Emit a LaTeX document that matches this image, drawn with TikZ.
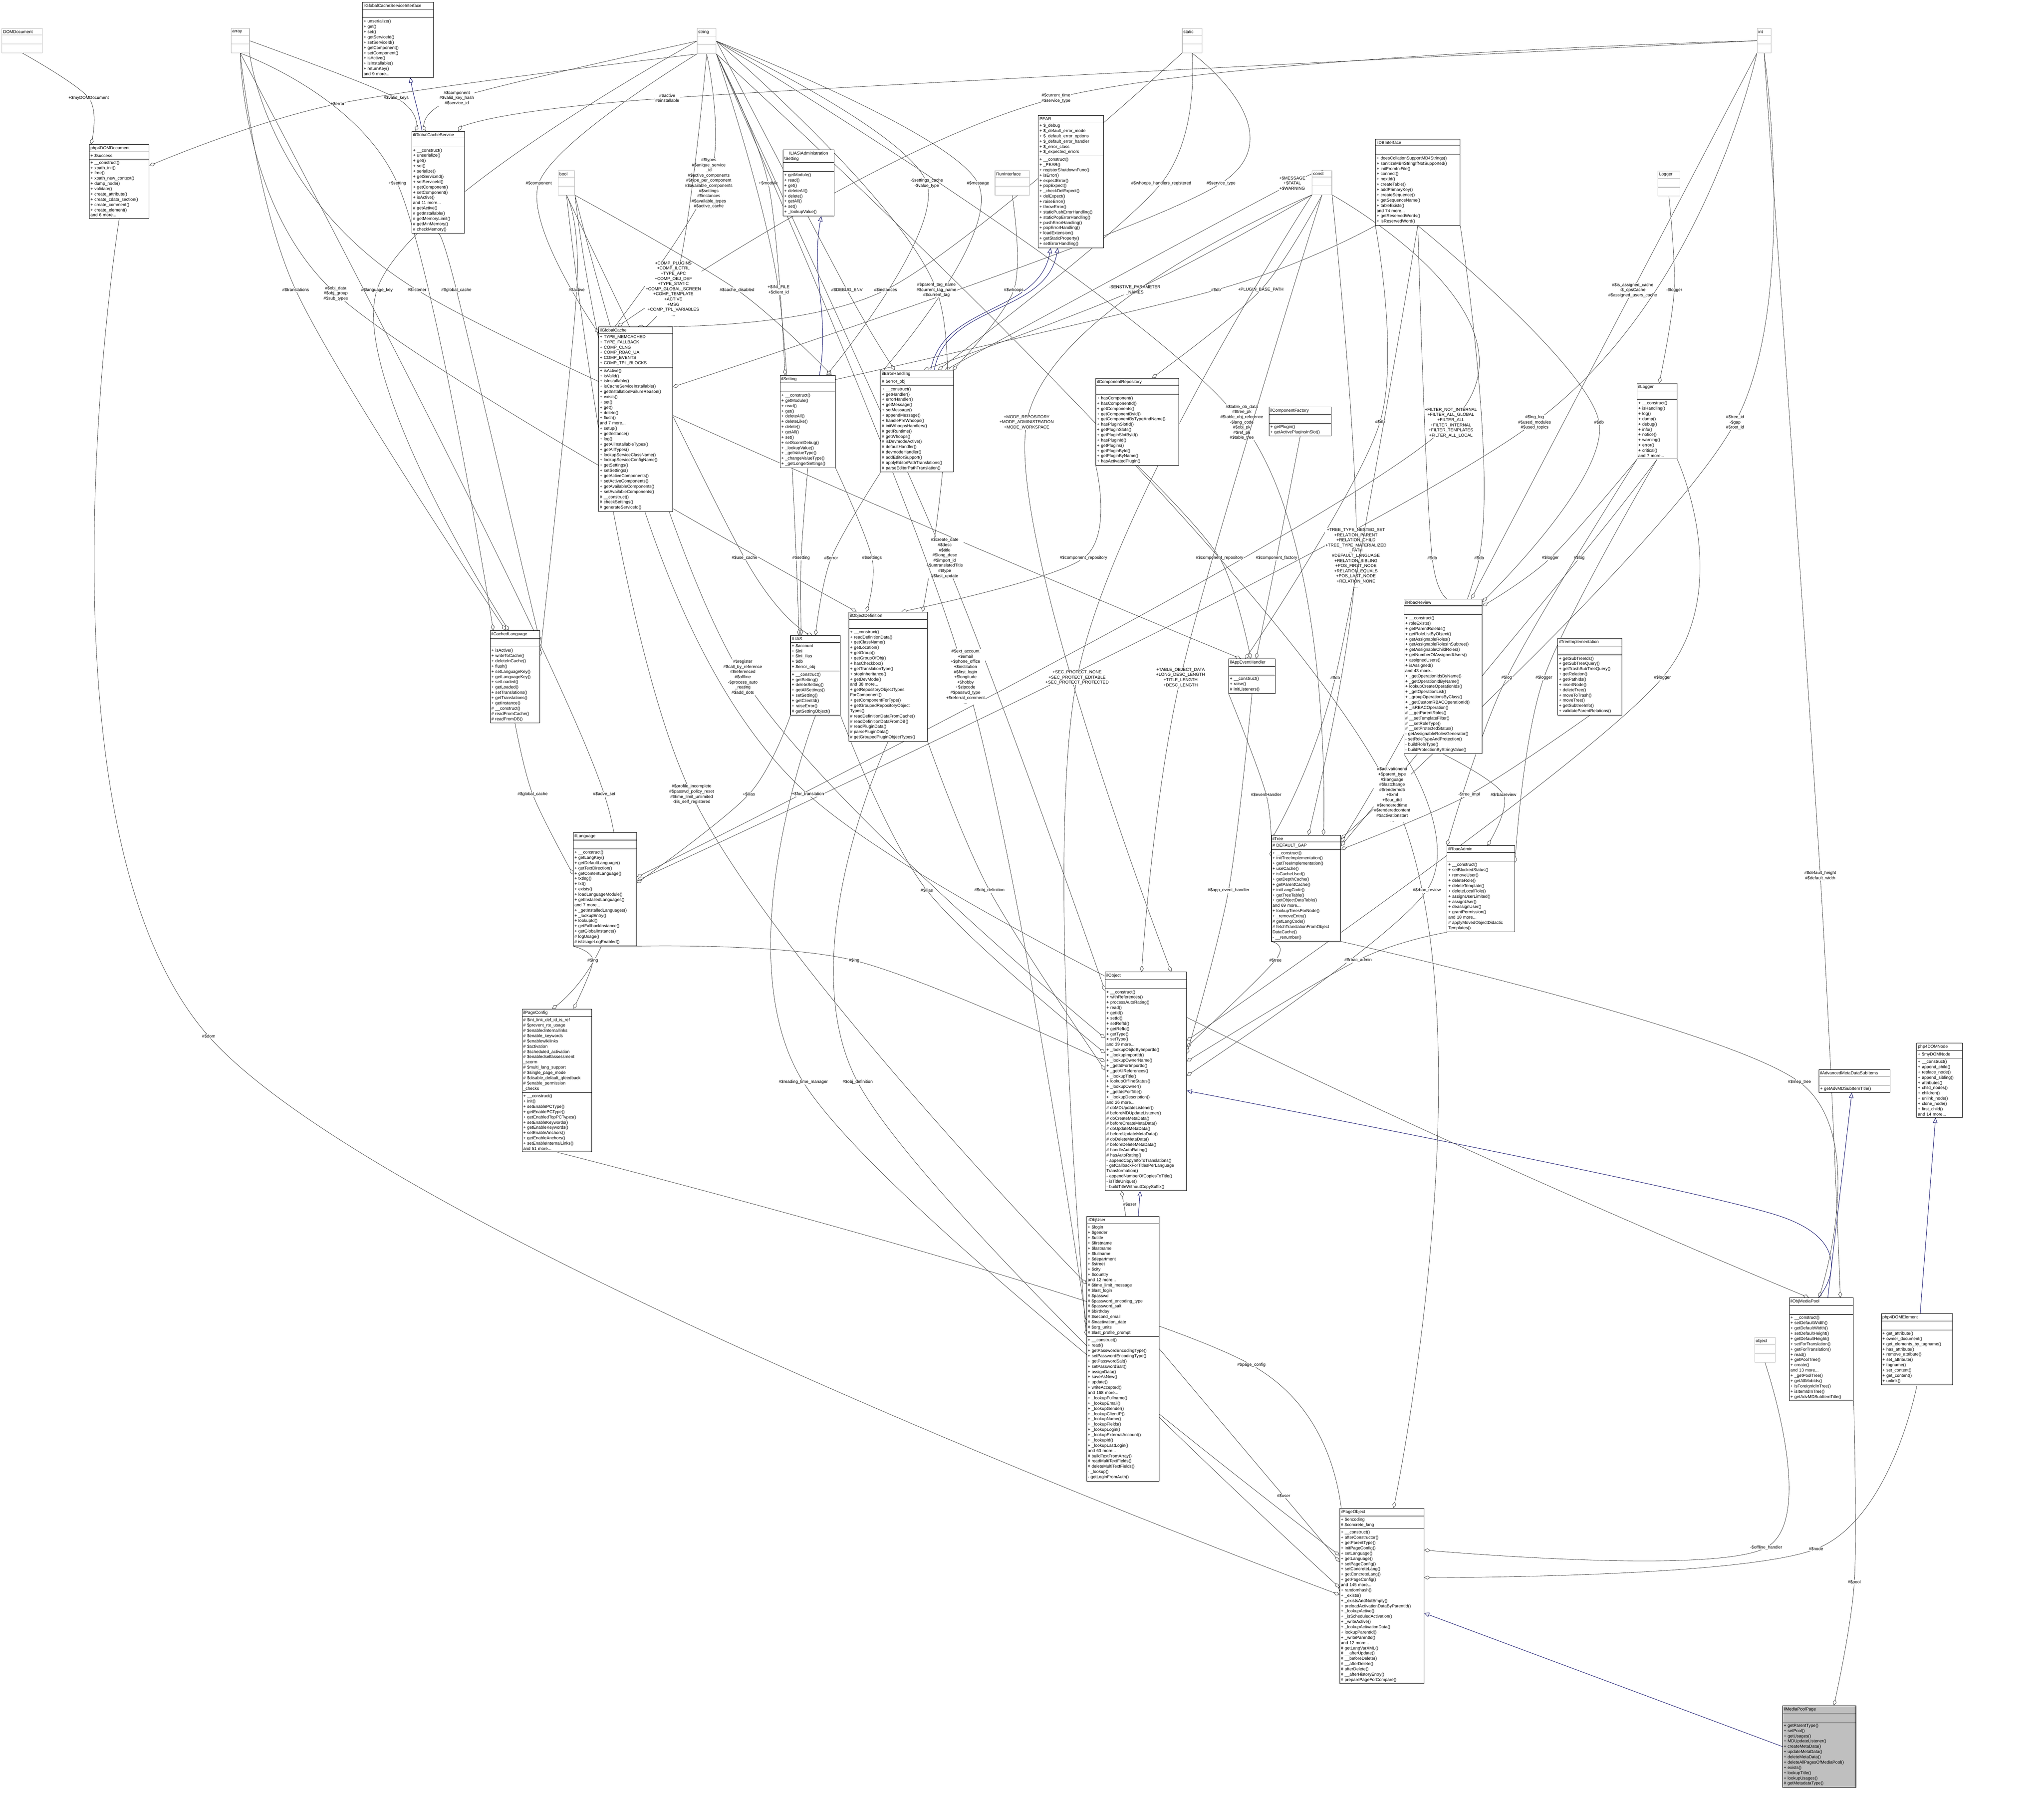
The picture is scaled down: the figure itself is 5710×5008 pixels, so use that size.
\documentclass[tikz,border=0pt]{standalone}
\usepackage{fontspec}
\setmainfont{Liberation Sans}
\usetikzlibrary{shapes.multipart,arrows.meta,calc,backgrounds}
\definecolor{edgegray}{HTML}{404040}
\definecolor{inhblue}{HTML}{191970}
\tikzset{
  classbox/.style={draw=black, line width=0.3pt, fill=white, rectangle split, rectangle split parts=3,
    anchor=north west, inner xsep=0.8pt, inner ysep=1.1pt, align=left, font=\fontsize{3}{3.675}\selectfont},
  typebox/.style={classbox, draw=gray!55},
  aggr/.style={draw=edgegray, line width=0.25pt, -{Diamond[open,length=4.5pt,width=2.6pt]}},
  inherit/.style={draw=inhblue, line width=0.3pt, -{Triangle[open,length=3.6pt,width=3.2pt]}},
  elabel/.style={font=\fontsize{3}{3.6}\selectfont, align=center, inner sep=0.3pt, fill=white}
}
% class box: [opts]{name}{x,y}{width px}{title}{attributes}{methods}
\newcommand{\umlclass}[7][]{%
  \pgfmathsetlengthmacro\boxw{#4*0.25pt-1.6pt}%
  \node[classbox,#1,text width=\boxw] (#2) at (#3) {\centering #5\nodepart{second}#6\nodepart{third}#7};}
\newcommand{\typeclass}[4]{%
  \pgfmathsetlengthmacro\boxw{#3*0.25pt-1.6pt}%
  \node[typebox,text width=\boxw] (#1) at (#2) {\centering #4\nodepart{second}\strut\nodepart{third}\strut};}
% usage edge: {label name}{from}{label point}{to}{label}
\newcommand{\usage}[5]{%
  \draw[aggr] plot[smooth,tension=0.55] coordinates {(#2) (#3) (#4)};
  \node[elabel] (#1) at (#3) {#5};}

\begin{document}
\begin{tikzpicture}[x=0.25pt,y=-0.25pt]
\useasboundingbox (0,0) rectangle (5710,5008);

% plain types
\typeclass{tDOM}{5,79}{113}{DOMDocument}
\typeclass{tArray}{645,79}{51}{array}
\typeclass{tString}{1947,79}{53}{string}
\typeclass{tStatic}{3302,79}{55}{static}
\typeclass{tInt}{4908,79}{39}{int}
\typeclass{tBool}{1559,476}{46}{bool}
\typeclass{tRun}{2779,476}{96}{RunInterface}
\typeclass{tConst}{3665,476}{55}{const}
\typeclass{tLogger}{4631,477}{61}{Logger}
\typeclass{tObject}{4901,3735}{58}{object}

% classes
\umlclass{cGCSI}{1012,6}{199}{ilGlobalCacheServiceInterface}{\strut}{+ unserialize()\\+ get()\\+ set()\\+ getServiceId()\\+ setServiceId()\\+ getComponent()\\+ setComponent()\\+ isActive()\\+ isInstallable()\\+ returnKey()\\and 9 more...}
\umlclass{cGCS}{1150,366}{147}{ilGlobalCacheService}{\strut}{+ \_\_construct()\\+ unserialize()\\+ get()\\+ set()\\+ serialize()\\+ getServiceId()\\+ setServiceId()\\+ getComponent()\\+ setComponent()\\+ isActive()\\and 11 more...\\\# getActive()\\\# getInstallable()\\\# getMemoryLimit()\\\# getMinMemory()\\\# checkMemory()}
\umlclass{cDOMDoc}{249,403}{167}{php4DOMDocument}{+ \$success}{+ \_\_construct()\\+ xpath\_init()\\+ free()\\+ xpath\_new\_context()\\+ dump\_node()\\+ validate()\\+ create\_attribute()\\+ create\_cdata\_section()\\+ create\_comment()\\+ create\_element()\\and 6 more...}
\umlclass{cAdmSetting}{2187,418}{143}{ILIAS\textbackslash Administration\\\textbackslash Setting}{\strut}{+ getModule()\\+ read()\\+ get()\\+ deleteAll()\\+ delete()\\+ getAll()\\+ set()\\+ \_lookupValue()}
\umlclass{cPEAR}{2900,322}{182}{PEAR}{+ \$\_debug\\+ \$\_default\_error\_mode\\+ \$\_default\_error\_options\\+ \$\_default\_error\_handler\\+ \$\_error\_class\\+ \$\_expected\_errors}{+ \_\_construct()\\+ \_PEAR()\\+ registerShutdownFunc()\\+ isError()\\+ expectError()\\+ popExpect()\\+ \_checkDelExpect()\\+ delExpect()\\+ raiseError()\\+ throwError()\\+ staticPushErrorHandling()\\+ staticPopErrorHandling()\\+ pushErrorHandling()\\+ popErrorHandling()\\+ loadExtension()\\+ getStaticProperty()\\+ setErrorHandling()}
\umlclass{cDB}{3842,388}{236}{ilDBInterface}{\strut}{+ doesCollationSupportMB4Strings()\\+ sanitizeMB4StringIfNotSupported()\\+ initFromIniFile()\\+ connect()\\+ nextId()\\+ createTable()\\+ addPrimaryKey()\\+ createSequence()\\+ getSequenceName()\\+ tableExists()\\and 74 more...\\+ getReservedWords()\\+ isReservedWord()}
\umlclass{cGCache}{1672,912}{206}{ilGlobalCache}{+ TYPE\_MEMCACHED\\+ TYPE\_FALLBACK\\+ COMP\_CLNG\\+ COMP\_RBAC\_UA\\+ COMP\_EVENTS\\+ COMP\_TPL\_BLOCKS}{+ isActive()\\+ isValid()\\+ isInstallable()\\+ isCacheServiceInstallable()\\+ getInstallationFailureReason()\\+ exists()\\+ set()\\+ get()\\+ delete()\\+ flush()\\and 7 more...\\+ setup()\\+ getInstance()\\+ log()\\+ getAllInstallableTypes()\\+ getAllTypes()\\+ lookupServiceClassName()\\+ lookupServiceConfigName()\\+ getSettings()\\+ setSettings()\\+ getActiveComponents()\\+ setActiveComponents()\\+ getAvailableComponents()\\+ setAvailableComponents()\\\# \_\_construct()\\\# checkSettings()\\\# generateServiceId()}
\umlclass{cSetting}{2179,1048}{154}{ilSetting}{\strut}{+ \_\_construct()\\+ getModule()\\+ read()\\+ get()\\+ deleteAll()\\+ deleteLike()\\+ delete()\\+ getAll()\\+ set()\\+ setScormDebug()\\+ \_lookupValue()\\+ \_getValueType()\\+ \_changeValueType()\\+ \_getLongerSettings()}
\umlclass{cErr}{2460,1034}{203}{ilErrorHandling}{\# \$error\_obj}{+ \_\_construct()\\+ getHandler()\\+ errorHandler()\\+ getMessage()\\+ setMessage()\\+ appendMessage()\\+ handlePreWhoops()\\\# initWhoopsHandlers()\\\# getIRuntime()\\\# getWhoops()\\\# isDevmodeActive()\\\# defaultHandler()\\\# devmodeHandler()\\\# addEditorSupport()\\\# applyEditorPathTranslations()\\\# parseEditorPathTranslation()}
\umlclass{cCompRepo}{3061,1056}{231}{ilComponentRepository}{\strut}{+ hasComponent()\\+ hasComponentId()\\+ getComponents()\\+ getComponentById()\\+ getComponentByTypeAndName()\\+ hasPluginSlotId()\\+ getPluginSlots()\\+ getPluginSlotById()\\+ hasPluginId()\\+ getPlugins()\\+ getPluginById()\\+ getPluginByName()\\+ hasActivatedPlugin()}
\umlclass{cCompFac}{3545,1136}{173}{ilComponentFactory}{\strut}{+ getPlugin()\\+ getActivePluginsInSlot()}
\umlclass{cLogger}{4573,1070}{111}{ilLogger}{\strut}{+ \_\_construct()\\+ isHandling()\\+ log()\\+ dump()\\+ debug()\\+ info()\\+ notice()\\+ warning()\\+ error()\\+ critical()\\and 7 more...}
\umlclass{cILIAS}{2208,1775}{139}{ILIAS}{+ \$account\\+ \$ini\\+ \$ini\_ilias\\+ \$db\\+ \$error\_obj}{+ \_\_construct()\\+ getSetting()\\+ deleteSetting()\\+ getAllSettings()\\+ setSetting()\\+ getClientId()\\+ raiseError()\\\# getSettingObject()}
\umlclass{cObjDef}{2371,1709}{219}{ilObjectDefinition}{\strut}{+ \_\_construct()\\+ readDefinitionData()\\+ getClassName()\\+ getLocation()\\+ getGroup()\\+ getGroupOfObj()\\+ hasCheckbox()\\+ getTranslationType()\\+ stopInheritance()\\+ getDevMode()\\and 38 more...\\+ getRepositoryObjectTypes\\ForComponent()\\+ getComponentForType()\\+ getGroupedRepositoryObject\\Types()\\\# readDefinitionDataFromCache()\\\# readDefinitionDataFromDB()\\\# readPluginData()\\\# parsePluginData()\\\# getGroupedPluginObjectTypes()}
\umlclass{cAppEvt}{3432,1840}{130}{ilAppEventHandler}{\strut}{+ \_\_construct()\\+ raise()\\\# initListeners()}
\umlclass{cRbacRev}{3922,1673}{218}{ilRbacReview}{\strut}{+ \_\_construct()\\+ roleExists()\\+ getParentRoleIds()\\+ getRoleListByObject()\\+ getAssignableRoles()\\+ getAssignableRolesInSubtree()\\+ getAssignableChildRoles()\\+ getNumberOfAssignedUsers()\\+ assignedUsers()\\+ isAssigned()\\and 43 more...\\+ \_getOperationIdsByName()\\+ \_getOperationIdByName()\\+ lookupCreateOperationIds()\\+ \_getOperationList()\\+ \_groupOperationsByClass()\\+ \_getCustomRBACOperationId()\\+ \_isRBACOperation()\\\# \_\_getParentRoles()\\\# \_\_setTemplateFilter()\\\# \_\_setRoleType()\\\# \_\_setProtectedStatus()\\- getAssignableRolesGenerator()\\- setRoleTypeAndProtection()\\- buildRoleType()\\- buildProtectionByStringValue()}
\umlclass{cTreeImpl}{4351,1783}{179}{ilTreeImplementation}{\strut}{+ getSubTreeIds()\\+ getSubTreeQuery()\\+ getTrashSubTreeQuery()\\+ getRelation()\\+ getPathIds()\\+ insertNode()\\+ deleteTree()\\+ moveToTrash()\\+ moveTree()\\+ getSubtreeInfo()\\+ validateParentRelations()}
\umlclass{cCachedLang}{1369,1761}{138}{ilCachedLanguage}{\strut}{+ isActive()\\+ writeToCache()\\+ deleteInCache()\\+ flush()\\+ setLanguageKey()\\+ getLanguageKey()\\+ setLoaded()\\+ getLoaded()\\+ setTranslations()\\+ getTranslations()\\+ getInstance()\\\# \_\_construct()\\\# readFromCache()\\\# readFromDB()}
\umlclass{cTree}{3551,2333}{194}{ilTree}{\# DEFAULT\_GAP}{+ \_\_construct()\\+ initTreeImplementation()\\+ getTreeImplementation()\\+ useCache()\\+ isCacheUsed()\\+ getDepthCache()\\+ getParentCache()\\+ initLangCode()\\+ getTreeTable()\\+ getObjectDataTable()\\and 69 more...\\+ lookupTreesForNode()\\+ \_removeEntry()\\\# getLangCode()\\\# fetchTranslationFromObject\\DataCache()\\- \_\_renumber()}
\umlclass{cRbacAdmin}{4042,2362}{189}{ilRbacAdmin}{\strut}{+ \_\_construct()\\+ setBlockedStatus()\\+ removeUser()\\+ deleteRole()\\+ deleteTemplate()\\+ deleteLocalRole()\\+ assignUserLimited()\\+ assignUser()\\+ deassignUser()\\+ grantPermission()\\and 18 more...\\\# applyMovedObjectDidactic\\Templates()}
\umlclass{cLang}{1601,2325}{177}{ilLanguage}{\strut}{+ \_\_construct()\\+ getLangKey()\\+ getDefaultLanguage()\\+ getTextDirection()\\+ getContentLanguage()\\+ txtlng()\\+ txt()\\+ exists()\\+ loadLanguageModule()\\+ getInstalledLanguages()\\and 7 more...\\+ \_getInstalledLanguages()\\+ \_lookupEntry()\\+ lookupId()\\+ getFallbackInstance()\\+ getGlobalInstance()\\\# logUsage()\\\# isUsageLogEnabled()}
\umlclass{cPageConfig}{1458,2818}{194}{ilPageConfig}{\# \$int\_link\_def\_id\_is\_ref\\\# \$prevent\_rte\_usage\\\# \$enabledinternallinks\\\# \$enable\_keywords\\\# \$enablewikilinks\\\# \$activation\\\# \$scheduled\_activation\\\# \$enabledselfassessment\\\_scorm\\\# \$multi\_lang\_support\\\# \$single\_page\_mode\\\# \$disable\_default\_qfeedback\\\# \$enable\_permission\\\_checks}{+ \_\_construct()\\+ init()\\+ setEnablePCType()\\+ getEnablePCType()\\+ getEnabledTopPCTypes()\\+ setEnableKeywords()\\+ getEnableKeywords()\\+ setEnableAnchors()\\+ getEnableAnchors()\\+ setEnableInternalLinks()\\and 51 more...}
\umlclass{cObj}{3087,2715}{227}{ilObject}{\strut}{+ \_\_construct()\\+ withReferences()\\+ processAutoRating()\\+ read()\\+ getId()\\+ setId()\\+ setRefId()\\+ getRefId()\\+ getType()\\+ setType()\\and 39 more...\\+ \_lookupObjIdByImportId()\\+ \_lookupImportId()\\+ \_lookupOwnerName()\\+ \_getIdForImportId()\\+ \_getAllReferences()\\+ \_lookupTitle()\\+ lookupOfflineStatus()\\+ \_lookupOwner()\\+ \_getIdsForTitle()\\+ \_lookupDescription()\\and 26 more...\\\# doMDUpdateListener()\\\# beforeMDUpdateListener()\\\# doCreateMetaData()\\\# beforeCreateMetaData()\\\# doUpdateMetaData()\\\# beforeUpdateMetaData()\\\# doDeleteMetaData()\\\# beforeDeleteMetaData()\\\# handleAutoRating()\\\# hasAutoRating()\\- appendCopyInfoToTranslations()\\- getCallbackForTitlesPerLanguage\\Transformation()\\- appendNumberOfCopiesToTitle()\\- isTitleUnique()\\- buildTitleWithoutCopySuffix()}
\umlclass{cObjUser}{3035,3397}{202}{ilObjUser}{+ \$login\\+ \$gender\\+ \$utitle\\+ \$firstname\\+ \$lastname\\+ \$fullname\\+ \$department\\+ \$street\\+ \$city\\+ \$country\\and 12 more...\\\# \$time\_limit\_message\\\# \$last\_login\\\# \$passwd\\\# \$password\_encoding\_type\\\# \$password\_salt\\\# \$birthday\\\# \$second\_email\\\# \$inactivation\_date\\\# \$org\_units\\\# \$last\_profile\_prompt}{+ \_\_construct()\\+ read()\\+ getPasswordEncodingType()\\+ setPasswordEncodingType()\\+ getPasswordSalt()\\+ setPasswordSalt()\\+ assignData()\\+ saveAsNew()\\+ update()\\+ writeAccepted()\\and 168 more...\\+ \_lookupFullname()\\+ \_lookupEmail()\\+ \_lookupGender()\\+ \_lookupClientIP()\\+ \_lookupName()\\+ \_lookupFields()\\+ \_lookupLogin()\\+ \_lookupExternalAccount()\\+ \_lookupId()\\+ \_lookupLastLogin()\\and 63 more...\\\# buildTextFromArray()\\\# readMultiTextFields()\\\# deleteMultiTextFields()\\- \_lookup()\\- getLoginFromAuth()}
\umlclass{cAdvMD}{5081,2987}{198}{ilAdvancedMetaDataSubItems}{\strut}{+ getAdvMDSubItemTitle()}
\umlclass{cDOMNode}{5354,2913}{127}{php4DOMNode}{+ \$myDOMNode}{+ \_\_construct()\\+ append\_child()\\+ replace\_node()\\+ append\_sibling()\\+ attributes()\\+ child\_nodes()\\+ children()\\+ unlink\_node()\\+ clone\_node()\\+ first\_child()\\and 14 more...}
\umlclass{cObjMP}{4998,3625}{179}{ilObjMediaPool}{\strut}{+ \_\_construct()\\+ setDefaultWidth()\\+ getDefaultWidth()\\+ setDefaultHeight()\\+ getDefaultHeight()\\+ setForTranslation()\\+ getForTranslation()\\+ read()\\+ getPoolTree()\\+ create()\\and 13 more...\\+ \_getPoolTree()\\+ getAllMobIds()\\+ isForeignIdInTree()\\+ isItemIdInTree()\\+ getAdvMDSubItemTitle()}
\umlclass{cDOMElem}{5255,3669}{199}{php4DOMElement}{\strut}{+ get\_attribute()\\+ owner\_document()\\+ get\_elements\_by\_tagname()\\+ has\_attribute()\\+ remove\_attribute()\\+ set\_attribute()\\+ tagname()\\+ set\_content()\\+ get\_content()\\+ unlink()}
\umlclass{cPageObj}{3742,4213}{235}{ilPageObject}{+ \$encoding\\\# \$concrete\_lang}{+ \_\_construct()\\+ afterConstructor()\\+ getParentType()\\+ initPageConfig()\\+ setLanguage()\\+ getLanguage()\\+ setPageConfig()\\+ setConcreteLang()\\+ getConcreteLang()\\+ getPageConfig()\\and 145 more...\\+ randomhash()\\+ \_exists()\\+ \_existsAndNotEmpty()\\+ preloadActivationDataByParentId()\\+ \_lookupActive()\\+ \_isScheduledActivation()\\+ \_writeActive()\\+ \_lookupActivationData()\\+ lookupParentId()\\+ \_writeParentId()\\and 12 more...\\\# getLangVarXML()\\\# \_\_afterUpdate()\\\# \_\_beforeDelete()\\\# \_\_afterDelete()\\\# afterDelete()\\\# \_\_afterHistoryEntry()\\\# preparePageForCompare()}
\umlclass[fill=gray!50]{cMPP}{4979,4764}{205}{ilMediaPoolPage}{\strut}{+ getParentType()\\+ setPool()\\+ getUsages()\\+ MDUpdateListener()\\+ createMetaData()\\+ updateMetaData()\\+ deleteMetaData()\\+ deleteAllPagesOfMediaPool()\\+ exists()\\+ lookupTitle()\\+ lookupUsages()\\\# getMetadataType()}

\begin{pgfonlayer}{background}
% inheritance
\draw[inherit] ($(cGCS.north west)+(29,0)$) to[out=100,in=-80] ($(cGCSI.south west)+(134,0)$);
\draw[inherit] ($(cSetting.north west)+(110,0)$) to[out=80,in=-100] ($(cAdmSetting.south west)+(107,0)$);
\draw[inherit] ($(cErr.north west)+(140,0)$) to[out=80,in=-100] ($(cPEAR.south west)+(35,0)$);
\draw[inherit] ($(cErr.north west)+(150,0)$) to[out=80,in=-100] ($(cPEAR.south west)+(55,0)$);
\draw[inherit] ($(cObjUser.north west)+(145,0)$) -- ($(cObj.south west)+(98,0)$);
\draw[inherit] ($(cObjMP.north west)+(108,0)$) -- ($(cAdvMD.south west)+(92,0)$);
\draw[inherit] ($(cDOMElem.north west)+(109,0)$) -- ($(cDOMNode.south west)+(53,0)$);
\draw[inherit] plot[smooth,tension=0.5] coordinates {($(cObjMP.north west)+(82,0)$) (4968,3396) ($(cObj.north east)+(0,332)$)};
\draw[inherit] (cMPP.west) -- ($(cPageObj.north east)+(0,293)$);

% usage: top row
\usage{lMyDom}{tDOM.south}{248,274}{$(cDOMDoc.north west)+(5,0)$}{+\$myDOMDocument}
\usage{lError}{tString.south west}{943,290}{$(cDOMDoc.north east)+(0,60)$}{+\$error}
\usage{lValidKeys}{tArray.east}{1107,274}{$(cGCS.north west)+(11,0)$}{\#\$valid\_keys}
\usage{lComp}{tString.west}{1276,274}{$(cGCS.north west)+(40,0)$}{\#\$component\\\#\$valid\_key\_hash\\\#\$service\_id}
\usage{lActInst}{tInt.west}{1864,274}{$(cGCS.north west)+(130,0)$}{\#\$active\\\#\$installable}
\usage{lCurTime}{tInt.west}{2950,274}{$(cGCache.north west)+(54,0)$}{\#\$current\_time\\\#\$service\_type}
% row 512
\usage{lSettingP}{tArray.south}{1110,512}{$(cCachedLang.north west)+(9,0)$}{+\$setting}
\usage{lComponent}{tString.south west}{1505,512}{$(cGCache.north west)+(0,18)$}{\#\$component}
\usage{lTypes}{tString.south}{1980,512}{$(cGCache.north west)+(0,60)$}{\#\$types\\\#\$unique\_service\\\_id\\\#\$active\_components\\\#\$type\_per\_component\\\#\$available\_components\\\#\$settings\\\#\$instances\\\#\$available\_types\\\#\$active\_cache}
\usage{lModule}{tString.south east}{2146,512}{$(cSetting.north west)+(14,0)$}{+\$module}
\usage{lSetCache}{tString.east}{2589,512}{$(cSetting.north west)+(130,0)$}{-\$settings\_cache\\-\$value\_type}
\usage{lMessage}{tString.east}{2732,512}{$(cErr.north west)+(0,8)$}{\#\$message}
\usage{lWhoopsReg}{tStatic.south}{3244,512}{$(cErr.north west)+(160,0)$}{\#\$whoops\_handlers\_registered}
\usage{lServType}{tStatic.south}{3411,512}{$(cGCache.north east)+(0,169)$}{\#\$service\_type}
\usage{lMsgConst}{tConst.west}{3610,512}{$(cErr.north west)+(180,0)$}{+\$MESSAGE\\+\$FATAL\\+\$WARNING}
% row 810
\usage{lTrans}{tArray.south}{826,810}{$(cCachedLang.north west)+(44,0)$}{\#\$translations}
\usage{lObjData}{tArray.south}{938,820}{$(cObjDef.north west)+(22,0)$}{\#\$obj\_data\\\#\$obj\_group\\\#\$sub\_types}
\usage{lLangKey}{tString.west}{1053,810}{$(cCachedLang.north west)+(52,0)$}{\#\$language\_key}
\usage{lListener}{tArray.south east}{1165,810}{$(cAppEvt.north west)+(34,0)$}{\#\$listener}
\usage{lGCache1}{cGCS.south}{1275,810}{$(cCachedLang.north east)+(0,31)$}{\#\$global\_cache}
\usage{lActive2}{tBool.south}{1611,810}{$(cCachedLang.north east)+(0,72)$}{\#\$active}
\usage{lCompPlug}{tString.south}{1881,807}{$(cGCache.north west)+(0,78)$}{+COMP\_PLUGINS\\+COMP\_ILCTRL\\+TYPE\_APC\\+COMP\_OBJ\_DEF\\+TYPE\_STATIC\\+COMP\_GLOBAL\_SCREEN\\+COMP\_TEMPLATE\\+ACTIVE\\+MSG\\+COMP\_TPL\_VARIABLES\\...}
\usage{lCacheDis}{tBool.south east}{2059,810}{$(cSetting.north west)+(144,0)$}{\#\$cache\_disabled}
\usage{lIni}{tString.south east}{2175,810}{$(cILIAS.north west)+(24,0)$}{+\$INI\_FILE\\+\$client\_id}
\usage{lDebug}{tString.east}{2366,810}{$(cErr.north west)+(40,0)$}{\#\$DEBUG\_ENV}
\usage{lInst}{tStatic.south west}{2474,810}{$(cGCache.north west)+(110,0)$}{\#\$instances}
\usage{lParentTag}{tString.east}{2616,810}{$(cObjDef.north west)+(206,0)$}{\#\$parent\_tag\_name\\\#\$current\_tag\_name\\\#\$current\_tag}
\usage{lWhoops}{tRun.south}{2832,810}{$(cErr.north east)+(-3,0)$}{\#\$whoops}
\usage{lSens}{tConst.south west}{3170,810}{$(cErr.north west)+(120,0)$}{-SENSTIVE\_PARAMETER\\\_NAMES}
\usage{lDb1}{cDB.south west}{3397,810}{$(cSetting.north west)+(0,47)$}{\#\$db}
\usage{lPluginBase}{tConst.south}{3522,810}{$(cCompRepo.north west)+(157,0)$}{+PLUGIN\_BASE\_PATH}
\usage{lAssigned}{tInt.south west}{4561,811}{$(cRbacRev.north west)+(188,0)$}{\#\$is\_assigned\_cache\\-\$\_opsCache\\\#\$assigned\_users\_cache}
\usage{lLogger}{tLogger.south}{4677,811}{$(cLogger.north west)+(62,0)$}{-\$logger}
% row 1180
\usage{lDb2}{cDB.south west}{3855,1179}{$(cAppEvt.north west)+(47,0)$}{\#\$db}
\usage{lFilter}{tConst.south east}{4053,1181}{$(cLang.north east)+(0,125)$}{+FILTER\_NOT\_INTERNAL\\+FILTER\_ALL\_GLOBAL\\+FILTER\_ALL\\+FILTER\_INTERNAL\\+FILTER\_TEMPLATES\\+FILTER\_ALL\_LOCAL}
\usage{lLngLog}{tInt.south west}{4287,1180}{$(cLang.north east)+(0,135)$}{\#\$lng\_log\\\#\$used\_modules\\\#\$used\_topics}
\usage{lDb3}{cDB.south}{4467,1180}{$(cRbacRev.north east)+(0,8)$}{\#\$db}
\usage{lTreeId}{tInt.south}{4847,1180}{$(cTree.north east)+(0,10)$}{\#\$tree\_id\\-\$gap\\\#\$root\_id}
\usage{lMode}{tConst.south west}{2868,1180}{$(cObj.north west)+(185,0)$}{+MODE\_REPOSITORY\\+MODE\_ADMINISTRATION\\+MODE\_WORKSPACE}
\usage{lTableOb}{tString.east}{3469,1180}{$(cTree.north west)+(146,0)$}{\#\$table\_ob\_data\\\#\$tree\_pk\\\#\$table\_obj\_reference\\-\$lang\_code\\\#\$obj\_pk\\\#\$ref\_pk\\\#\$table\_tree}
% row 1559
\usage{lUseCache}{tBool.south}{2080,1559}{$(cILIAS.north west)+(62,0)$}{\#\$use\_cache}
\usage{lSettingI}{cSetting.south}{2238,1559}{$(cILIAS.north west)+(30,0)$}{\#\$setting}
\usage{lError2}{cErr.south west}{2322,1559}{$(cILIAS.north west)+(70,0)$}{\#\$error}
\usage{lSettings}{cSetting.south east}{2436,1559}{$(cObjDef.north west)+(49,0)$}{\#\$settings}
\usage{lCreate}{tString.south east}{2639,1559}{$(cObj.north west)+(0,53)$}{\#\$create\_date\\\#\$desc\\\#\$title\\\#\$long\_desc\\\#\$import\_id\\+\$untranslatedTitle\\\#\$type\\\#\$last\_update}
\usage{lCompRepo1}{cCompRepo.south west}{3027,1559}{$(cObjDef.north west)+(147,0)$}{\#\$component\_repository}
\usage{lCompRepo2}{cCompRepo.south}{3407,1559}{$(cAppEvt.north west)+(62,0)$}{\#\$component\_repository}
\usage{lCompFac}{cCompFac.south}{3566,1559}{$(cAppEvt.north west)+(77,0)$}{\#\$component\_factory}
\usage{lTreeType}{tConst.south east}{3788,1559}{$(cTree.north west)+(104,0)$}{+TREE\_TYPE\_NESTED\_SET\\+RELATION\_PARENT\\+RELATION\_CHILD\\+TREE\_TYPE\_MATERIALIZED\\\_PATH\\\#DEFAULT\_LANGUAGE\\+RELATION\_SIBLING\\+POS\_FIRST\_NODE\\+RELATION\_EQUALS\\+POS\_LAST\_NODE\\+RELATION\_NONE\\...}
\usage{lDb4}{cDB.south}{4001,1559}{$(cRbacRev.north west)+(160,0)$}{\#\$db}
\usage{lDb5}{cDB.south east}{4132,1559}{$(cTree.north east)+(0,20)$}{\#\$db}
\usage{lLogger2}{cLogger.south west}{4331,1559}{$(cRbacRev.north east)+(0,20)$}{\#\$logger}
\usage{lLog}{cLogger.south}{4412,1559}{$(cTree.north east)+(0,30)$}{\#\$log}
% row 1893
\usage{lExt}{tString.south east}{2697,1891}{$(cObjUser.north west)+(0,303)$}{\#\$ext\_account\\+\$email\\+\$phone\_office\\+\$institution\\\#\$first\_login\\+\$longitude\\+\$hobby\\+\$zipcode\\\#\$passwd\_type\\+\$referral\_comment\\...}
\usage{lSec}{tConst.south west}{3009,1893}{$(cObjUser.north west)+(0,334)$}{+SEC\_PROTECT\_NONE\\+SEC\_PROTECT\_EDITABLE\\+SEC\_PROTECT\_PROTECTED}
\usage{lTableObj}{tConst.south}{3298,1893}{$(cObj.north west)+(102,0)$}{+TABLE\_OBJECT\_DATA\\+LONG\_DESC\_LENGTH\\+TITLE\_LENGTH\\+DESC\_LENGTH}
\usage{lDb6}{cDB.south}{3730,1893}{$(cTree.north west)+(0,12)$}{\#\$db}
\usage{lLog2}{cLogger.south west}{4209,1893}{cRbacAdmin.north west}{\#\$log}
\usage{lLogger3}{cLogger.south}{4313,1893}{$(cRbacAdmin.north east)+(0,48)$}{\#\$logger}
\usage{lLogger4}{cLogger.south east}{4644,1893}{$(cObj.north east)+(0,192)$}{\#\$logger}
\usage{lRegister}{tBool.south east}{2075,1892}{$(cObj.north west)+(0,185)$}{\#\$register\\\#\$call\_by\_reference\\\#\$referenced\\\#\$offline\\-\$process\_auto\\\_reating\\\#\$add\_dots}
% row 2220
\usage{lGCache2}{cCachedLang.south}{1488,2219}{$(cLang.north west)+(0,118)$}{\#\$global\_cache}
\usage{lAdve}{tArray.south}{1688,2219}{$(cPageConfig.north west)+(84,0)$}{\#\$adve\_set}
\usage{lProfile}{tBool.south}{1932,2219}{$(cObjUser.north west)+(0,190)$}{\#\$profile\_incomplete\\\#\$passwd\_policy\_reset\\\#\$time\_limit\_unlimited\\-\$is\_self\_registered}
\usage{lIlias}{cILIAS.south west}{2092,2219}{$(cLang.north east)+(0,142)$}{+\$ilias}
\usage{lForTrans}{tBool.south east}{2257,2219}{$(cObjMP.north west)+(55,0)$}{+\$for\_translation}
\usage{lEventH}{cAppEvt.south west}{3537,2220}{$(cTree.north west)+(0,61)$}{\#\$eventHandler}
\usage{lActEnd}{tString.south east}{3889,2220}{$(cPageObj.north west)+(151,0)$}{\#\$activationend\\+\$parent\_type\\\#\$language\\\#\$lastchange\\\#\$rendermd5\\+\$xml\\+\$cur\_dtd\\\#\$renderedtime\\\#\$renderedcontent\\\#\$activationstart\\...}
\usage{lTreeImpl}{cTreeImpl.south}{4104,2220}{$(cTree.north east)+(0,40)$}{-\$tree\_impl}
\usage{lRbacRev}{cRbacRev.south}{4200,2220}{$(cRbacAdmin.north west)+(113,0)$}{\#\$rbacreview}
% row 2487
\usage{lIlias2}{cILIAS.south east}{2589,2487}{$(cObj.north west)+(0,227)$}{\#\$ilias}
\usage{lObjDef}{cObjDef.south east}{2764,2487}{$(cObj.north west)+(0,275)$}{\#\$obj\_definition}
\usage{lAppEvt}{cAppEvt.south}{3432,2487}{$(cObj.north east)+(0,229)$}{\#\$app\_event\_handler}
\usage{lRbacRev2}{cRbacRev.south west}{3986,2487}{$(cObj.north east)+(0,290)$}{\#\$rbac\_review}
\usage{lDefH}{tInt.south}{5085,2446}{$(cObjMP.north west)+(143,0)$}{\#\$default\_height\\\#\$default\_width}
% row 2683
\usage{lLng1}{cLang.south west}{1656,2683}{$(cPageConfig.north west)+(144,0)$}{\#\$lng}
\usage{lLng2}{cLang.south east}{2386,2683}{$(cObj.north west)+(0,250)$}{\#\$lng}
\usage{lTree}{cTree.south west}{3563,2682}{$(cObj.north east)+(0,210)$}{\#\$tree}
\usage{lRbacAdm}{cRbacAdmin.south west}{3794,2682}{$(cObj.north east)+(0,250)$}{\#\$rbac\_admin}
% row 3023 and below
\usage{lReading}{cILIAS.south}{2244,3023}{$(cPageObj.north west)+(0,132)$}{\#\$reading\_time\_manager}
\usage{lObjDef2}{cObjDef.south}{2396,3023}{$(cPageObj.north west)+(0,222)$}{\#\$obj\_definition}
\usage{lMep}{cTree.south east}{5027,3023}{$(cObjMP.north west)+(83,0)$}{\#\$mep\_tree}
\draw[aggr] ($(cObjUser.north west)+(110,0)$) -- ($(cObj.south west)+(46,0)$);
\node[elabel] (lUser1) at (3156,3364) {\#\$user};
\usage{lUser2}{cObjUser.east}{3586,4179}{$(cPageObj.north west)+(0,150)$}{\#\$user}
\usage{lPageCfg}{cPageConfig.south}{3496,3813}{$(cPageObj.north west)+(0,232)$}{\#\$page\_config}
\usage{lDom}{cDOMDoc.south}{583,2895}{$(cPageObj.north west)+(0,242)$}{\#\$dom}
\usage{lOffline}{tObject.south}{4934,4323}{$(cPageObj.north east)+(0,117)$}{-\$offline\_handler}
\usage{lNode}{cDOMElem.south}{5073,4327}{$(cPageObj.north east)+(0,194)$}{\#\$node}
\usage{lPool}{cObjMP.south east}{5180,4420}{$(cMPP.north west)+(144,0)$}{\#\$pool}
\end{pgfonlayer}
\end{tikzpicture}
\end{document}
